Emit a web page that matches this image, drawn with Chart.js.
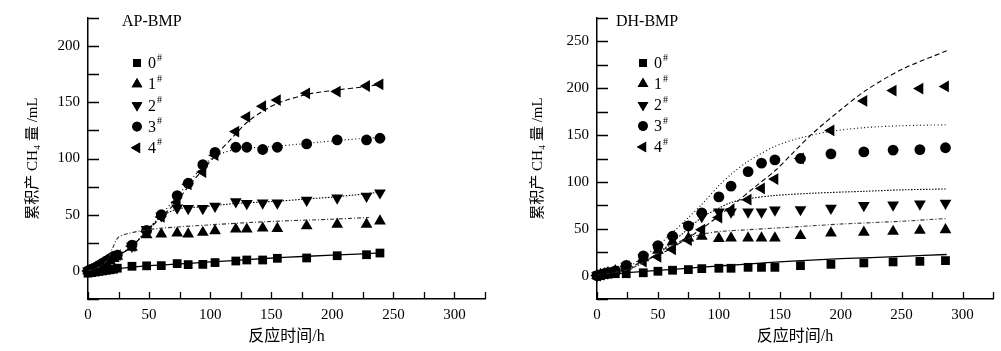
<!DOCTYPE html>
<html>
<head>
<meta charset="utf-8">
<script src="https://cdn.jsdelivr.net/npm/chart.js@4/dist/chart.umd.min.js"></script>
<style>
  body { margin: 0; background: #fff; }
  .wrap { position: absolute; top: 0; }
</style>
</head>
<body>
<div class="wrap" style="left:0"><canvas id="apChart" width="500" height="351"></canvas></div>
<div class="wrap" style="left:500px"><canvas id="dhChart" width="501" height="351"></canvas></div>
<script>
// ---- AP-BMP 실측점 ----
const apTime = [0, 3, 6, 9, 12, 15, 18, 21, 24, 36, 48, 60, 73, 82, 94, 104, 121, 130, 143, 155, 179, 204, 228, 239];
const ap0 = [-2, -1.5, -1, -0.5, 0, 0.5, 1, 1.5, 2.4, 4.1, 4.5, 4.7, 6.5, 5.6, 5.8, 7.4, 8.8, 9.7, 9.7, 11.2, 11.5, 13.5, 14.4, 15.9];
const ap1 = [0, 1, 2.5, 4, 5.5, 7, 9, 11, 13, 21, 32, 32.7, 33.6, 32.7, 34.2, 35.6, 37.1, 37.1, 38, 37.7, 40, 41.5, 41.5, 44.4];
const ap2 = [0, 1.5, 3, 4.5, 6, 8, 10, 12, 14, 22, 37, 49, 56, 55.5, 55.5, 57.5, 61.5, 60, 60.5, 60.5, 63, 65, 66.5, 69.5];
const ap3 = [0, 1.5, 3, 5, 7, 9, 11, 13, 14, 23, 36, 50, 67, 78, 94.5, 105.5, 110, 110, 108, 110, 113, 116.5, 116.5, 118];
const ap4 = [0, 1.5, 3, 5, 7, 9, 11, 13, 14, 22, 35, 48, 61, 77, 88, 103, 124, 137, 146.5, 152, 158, 159.5, 164.5, 166];

// ---- AP-BMP 拟合曲线 ----
const apFit0T = [0, 10, 24, 48, 72, 100, 130, 160, 200, 240];
const apFit0 = [-4, -1, 2, 4.5, 6, 8, 10, 12, 14, 16];
const apFit1T = [0, 10, 16, 20, 25, 34, 45, 60, 100, 150, 200, 230];
const apFit1 = [0, 4, 10, 20, 30, 33.5, 36, 38, 41, 44, 46, 47.5];
const apFit2T = [0, 24, 36, 48, 60, 73, 94, 121, 155, 179, 204, 239];
const apFit2 = [0, 13, 22, 36, 48, 55, 57, 60, 62, 64, 66, 70];
const apFit3T = [0, 24, 36, 48, 60, 73, 82, 94, 104, 121, 155, 204, 239];
const apFit3 = [0, 13, 22, 35, 50, 66, 78, 93, 102, 108, 111, 116, 119];
const apFit4T = [0, 24, 36, 48, 60, 73, 82, 94, 104, 121, 130, 143, 155, 179, 204, 228, 239];
const apFit4 = [0, 13, 22, 35, 48, 62, 75, 90, 102, 122, 132, 142, 149, 157, 161, 164, 166];

// ---- DH-BMP 실측점 ----
const dhTime = [0, 3, 6, 9, 15, 24, 38, 50, 62, 75, 86, 100, 110, 124, 135, 146, 167, 192, 219, 243, 265, 286];
const dh0 = [0, 0.5, 1, 1.5, 2, 2, 3, 4.6, 5.7, 6.4, 7.4, 7.8, 7.8, 8.8, 8.8, 8.8, 10.6, 12, 13.5, 14.6, 15.2, 16];
const dh1 = [0, 1, 2, 3, 5, 10, 19, 27, 36, 40, 42, 39.5, 40, 40, 40, 40, 42.6, 45.4, 46.1, 47.1, 48.2, 48.9];
const dh2 = [0, 1, 2, 3, 5, 10, 19, 30, 40, 53, 63, 68, 68, 68, 68, 70, 70.5, 72, 74.8, 75.5, 76.6, 77.3];
const dh3 = [0, 1, 2, 3, 5, 11, 21, 32, 42, 53, 67, 84, 95.5, 111, 120, 123.5, 125, 130, 132, 134, 134.5, 136.5];
const dh4 = [0, 1, 2, 3, 4.5, 10, 15, 20, 28, 38, 49, 62, 70, 81, 93, 103, 125, 155, 186.5, 197.5, 199.7, 202];

// ---- DH-BMP 拟合曲线 ----
const dhFit0T = [0, 24, 50, 86, 120, 160, 200, 250, 287];
const dhFit0 = [0, 3, 5.5, 9, 12, 15.5, 18, 20.5, 22.5];
const dhFit1T = [0, 24, 38, 50, 62, 75, 86, 100, 125, 150, 200, 250, 287];
const dhFit1 = [0, 6, 14, 24, 33, 40, 44, 47, 49, 51, 55, 58, 61];
const dhFit2T = [0, 24, 38, 50, 62, 75, 86, 100, 110, 124, 146, 178, 220, 250, 287];
const dhFit2 = [0, 6, 14, 24, 36, 50, 62, 72, 78, 82, 85.5, 88, 90, 91.5, 92.5];
const dhFit3T = [0, 24, 38, 50, 62, 75, 86, 100, 110, 124, 146, 167, 192, 220, 250, 287];
const dhFit3 = [0, 8, 20, 32, 46, 62, 76, 96, 108, 122, 138, 147, 154, 158, 160, 161];
const dhFit4T = [0, 24, 37, 50, 62, 86, 113, 130, 147, 160, 178, 200, 221, 250, 287];
const dhFit4 = [0, 7, 15, 22, 30, 50, 77, 95, 113, 130, 153, 177, 198, 220, 240];

const legendLabels = ['0', '1', '2', '3', '4'];
const xTicksLabel = [0, 50, 100, 150, 200, 250, 300];

const SERIF = "'Liberation Serif', 'DejaVu Serif', 'Noto Sans CJK SC', serif";
Chart.defaults.font.family = SERIF;
Chart.defaults.color = '#000';

// 마커 모양 (0#~4#)
const markers = [
    {pointStyle: 'rect', radius: 6.2, rotation: 0},
    {pointStyle: 'triangle', radius: 6.8, rotation: 0},
    {pointStyle: 'triangle', radius: 6.8, rotation: 180},
    {pointStyle: 'circle', radius: 5.4, rotation: 0},
    {pointStyle: 'triangle', radius: 6.8, rotation: 270}
];
const fitDash = [[], [4, 2, 1, 2], [1.5, 1.5], [1, 2.5], [5, 3]];

const zip = (xs, ys) => xs.map((x, i) => ({x: x, y: ys[i]}));

// 안쪽으로 향하는 눈금
const inwardTicks = {
    id: 'inwardTicks',
    afterDatasetsDraw(chart) {
        const {ctx, chartArea: a, scales: {x, y}} = chart;
        ctx.save();
        ctx.strokeStyle = '#000';
        ctx.lineWidth = 1.3;
        ctx.beginPath();
        x.ticks.forEach(t => {
            const px = Math.round(x.getPixelForValue(t.value)) + 0.5;
            ctx.moveTo(px, a.bottom);
            ctx.lineTo(px, a.bottom - 7);
        });
        y.ticks.forEach(t => {
            const py = Math.round(y.getPixelForValue(t.value)) + 0.5;
            ctx.moveTo(a.left, py);
            ctx.lineTo(a.left + 11, py);
        });
        ctx.stroke();
        ctx.restore();
    }
};

// 그림 제목 + 범례 (# 위첨자)
const panelLegend = {
    id: 'panelLegend',
    afterDraw(chart, args, opts) {
        const ctx = chart.ctx;
        ctx.save();
        ctx.fillStyle = '#000';
        ctx.strokeStyle = '#000';
        ctx.textBaseline = 'middle';
        ctx.textAlign = 'left';
        ctx.font = '16px ' + SERIF;
        ctx.fillText(opts.title, opts.titleX, opts.titleY);
        legendLabels.forEach((lab, i) => {
            const y = opts.ly + i * opts.step;
            const m = markers[i];
            Chart.helpers.drawPoint(ctx, {pointStyle: m.pointStyle, radius: m.radius - 0.6, rotation: m.rotation, borderWidth: 0}, opts.lx, y);
            ctx.fill();
            ctx.font = '16px ' + SERIF;
            ctx.fillText(lab, opts.lx + 11, y + 1);
            const w = ctx.measureText(lab).width;
            ctx.font = '10px ' + SERIF;
            ctx.fillText('#', opts.lx + 11 + w + 1, y - 5);
        });
        ctx.restore();
    }
};

function buildDatasets(time, series, fitT, fits) {
    const sets = [];
    fits.forEach((f, i) => {
        sets.push({
            data: zip(fitT[i], f),
            showLine: true,
            borderColor: i === 1 ? '#333' : '#000',
            borderWidth: i === 0 ? 1.3 : 1.1,
            borderDash: fitDash[i],
            pointRadius: 0,
            fill: false,
            tension: 0.3,
            clip: false
        });
    });
    series.forEach((s, i) => {
        const m = markers[i];
        sets.push({
            data: zip(time, s),
            showLine: false,
            pointStyle: m.pointStyle,
            pointRadius: m.radius,
            pointRotation: m.rotation,
            pointBackgroundColor: '#000',
            pointBorderColor: '#000',
            pointBorderWidth: 0,
            clip: false
        });
    });
    return sets;
}

function makeChart(id, datasets, yMax, yWidth, padRight, yTitlePad, panel) {
    return new Chart(document.getElementById(id), {
        type: 'scatter',
        data: {datasets: datasets},
        plugins: [inwardTicks, panelLegend],
        options: {
            responsive: false,
            animation: false,
            devicePixelRatio: 1,
            layout: {padding: {left: 0, right: padRight, top: 18, bottom: 0}},
            plugins: {
                legend: {display: false},
                tooltip: {enabled: false},
                panelLegend: panel
            },
            scales: {
                x: {
                    type: 'linear',
                    min: 0,
                    max: 325,
                    afterFit: s => { s.height = 52; },
                    grid: {display: false, drawTicks: false},
                    border: {display: true, color: '#000', width: 1.5},
                    ticks: {
                        stepSize: 25,
                        padding: 7,
                        maxRotation: 0,
                        autoSkip: false,
                        font: {size: 15},
                        callback: v => xTicksLabel.includes(v) ? v : ''
                    },
                    title: {display: true, text: '反应时间/h', font: {size: 16}, padding: {top: 0, bottom: 5}}
                },
                y: {
                    type: 'linear',
                    min: -25,
                    max: yMax,
                    afterFit: s => { s.width = yWidth; },
                    grid: {display: false, drawTicks: false},
                    border: {display: true, color: '#000', width: 1.5},
                    ticks: {
                        stepSize: 25,
                        padding: 8,
                        autoSkip: false,
                        font: {size: 15},
                        callback: v => (v >= 0 && v % 50 === 0 && v < yMax) ? v : ''
                    },
                    title: {display: true, text: '累积产 CH₄ 量 /mL', font: {size: 15}, padding: {top: yTitlePad, bottom: 0}}
                }
            }
        }
    });
}

makeChart('apChart',
    buildDatasets(apTime, [ap0, ap1, ap2, ap3, ap4],
        [apFit0T, apFit1T, apFit2T, apFit3T, apFit4T], [apFit0, apFit1, apFit2, apFit3, apFit4]),
    225, 88, 15, 24,
    {title: 'AP-BMP', titleX: 122, titleY: 22, lx: 137, ly: 63, step: 21.2});

makeChart('dhChart',
    buildDatasets(dhTime, [dh0, dh1, dh2, dh3, dh4],
        [dhFit0T, dhFit1T, dhFit2T, dhFit3T, dhFit4T], [dhFit0, dhFit1, dhFit2, dhFit3, dhFit4]),
    275, 97, 8, 29,
    {title: 'DH-BMP', titleX: 116, titleY: 22, lx: 143, ly: 63, step: 21});
</script>
</body>
</html>
